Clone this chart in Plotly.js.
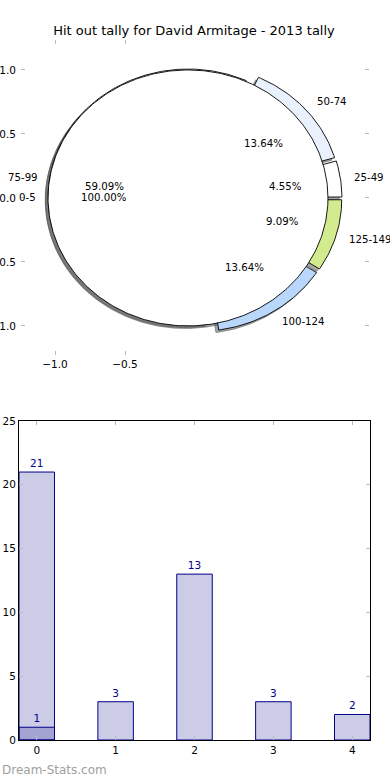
<!DOCTYPE html>
<html>
<head>
<meta charset="utf-8">
<script src="https://cdn.plot.ly/plotly-3.0.1.min.js"></script>
<style>html,body{margin:0;padding:0;background:#fff;}#chart{width:390px;height:780px;}</style>
</head>
<body>
<div id="chart"></div>
<script>
// ---- Data ----
const chartTitle = 'Hit out tally for David Armitage - 2013 tally';
const pieLabels = ['25-49', '50-74', '75-99', '100-124', '125-149'];
const pieValues = [1, 3, 13, 3, 2];
const pieColors = ['#ffffff', '#e9f1fd', '#ffffff', '#b8d7fb', '#d2eb8e'];
const outerLabels = ['0-5'];
const outerValues = [1];
const outerColors = ['#ffffff'];
const pieYTickVals = [-1, -0.5, 0, 0.5, 1];
const pieYTickText = ['\u22121.0', '\u22120.5', '0.0', '0.5', '1.0'];
const pieXTickVals = [-1, -0.5];
const pieXTickText = ['\u22121.0', '\u22120.5'];
const barX = [0, 1, 2, 3, 4];
const barValues = [21, 3, 13, 3, 2];
const bar2X = [0];
const bar2Values = [1];
const watermark = 'Dream-Stats.com';

// ---- Styling constants ----
const FONT = 'DejaVu Sans';
const PIE_FS = 10.2;
const EXPLODE = 0.05, LABEL_DIST = 1.1, PCT_DIST = 0.6;
const SH_DX = -0.02, SH_DY = -0.02;

function wedge(t1, t2, cx, cy, r) {
  const xs = [], ys = [];
  const full = (t2 - t1) >= 359.999;
  if (!full) { xs.push(cx); ys.push(cy); }
  const n = Math.max(4, Math.ceil((t2 - t1) / 1));
  for (let i = 0; i <= n; i++) {
    const a = (t1 + (t2 - t1) * i / n) * Math.PI / 180;
    xs.push(cx + r * Math.cos(a)); ys.push(cy + r * Math.sin(a));
  }
  if (!full) { xs.push(cx); ys.push(cy); }
  return {xs, ys};
}

function buildPie(labels, values, colors) {
  const total = values.reduce((a, b) => a + b, 0);
  let cum = 0;
  const out = [];
  values.forEach((v, i) => {
    const t1 = cum / total * 360, t2 = (cum + v) / total * 360;
    cum += v;
    const mid = (t1 + t2) / 2 * Math.PI / 180;
    const cx = EXPLODE * Math.cos(mid), cy = EXPLODE * Math.sin(mid);
    out.push({label: labels[i], color: colors[i], pct: (v / total * 100).toFixed(2) + '%',
      t1, t2, mid, cx, cy});
  });
  return out;
}

const inner = buildPie(pieLabels, pieValues, pieColors);
const outer = buildPie(outerLabels, outerValues, outerColors);
const all = inner.concat(outer);

const traces = [];
// shadows
all.forEach(w => {
  const p = wedge(w.t1, w.t2, w.cx + SH_DX, w.cy + SH_DY, 1);
  traces.push({type: 'scatter', mode: 'lines', x: p.xs, y: p.ys, fill: 'toself',
    fillcolor: 'rgba(77,77,77,0.5)', line: {color: 'rgba(77,77,77,0.5)', width: 1},
    hoverinfo: 'skip', showlegend: false, xaxis: 'x', yaxis: 'y'});
});
// wedges
all.forEach(w => {
  const p = wedge(w.t1, w.t2, w.cx, w.cy, 1);
  traces.push({type: 'scatter', mode: 'lines', x: p.xs, y: p.ys, fill: 'toself',
    fillcolor: w.color, line: {color: '#000000', width: 0.9},
    hoverinfo: 'skip', showlegend: false, xaxis: 'x', yaxis: 'y'});
});

const annotations = [];
all.forEach(w => {
  const c = Math.cos(w.mid), s = Math.sin(w.mid);
  const lx = w.cx + LABEL_DIST * c, ly = w.cy + LABEL_DIST * s;
  annotations.push({xref: 'x', yref: 'y', x: lx, y: ly, text: w.label, showarrow: false,
    xanchor: lx > 0 ? 'left' : 'right', yanchor: 'middle', xshift: lx > 0 ? -2 : 4,
    font: {family: FONT, size: PIE_FS, color: '#000'}});
  annotations.push({xref: 'x', yref: 'y', x: w.cx + PCT_DIST * c, y: w.cy + PCT_DIST * s,
    text: w.pct, showarrow: false, xanchor: 'center', yanchor: 'middle',
    font: {family: FONT, size: PIE_FS, color: '#000'}});
});
annotations.push({xref: 'paper', yref: 'paper', x: 0, y: 1 - 770 / 780, text: watermark,
  showarrow: false, xanchor: 'left', yanchor: 'middle',
  font: {family: FONT, size: 12, color: '#a0a0a0'}});

// bars
const barCommon = {type: 'bar', width: 0.45, xaxis: 'x2', yaxis: 'y2', showlegend: false,
  marker: {color: 'rgba(0,0,128,0.2)', line: {color: '#00008b', width: 1}},
  textposition: 'outside', cliponaxis: false,
  textfont: {family: FONT, size: 10.5, color: '#00008b'}, hoverinfo: 'skip'};
traces.push(Object.assign({}, barCommon, {x: barX, y: barValues, text: barValues.map(String)}));
traces.push(Object.assign({}, barCommon, {x: bar2X, y: bar2Values, text: bar2Values.map(String)}));

const tickCommon = {ticks: 'inside', ticklen: 4, tickwidth: 1, tickcolor: '#bbbbbb',
  showgrid: false, zeroline: false, fixedrange: true,
  tickfont: {family: FONT, size: 10.5, color: '#000'}};

const layout = {
  width: 390, height: 780,
  margin: {l: 0, r: 0, t: 0, b: 0},
  paper_bgcolor: '#ffffff', plot_bgcolor: 'rgba(0,0,0,0)',
  font: {family: FONT},
  title: {text: chartTitle, x: 194 / 390, xanchor: 'center', y: 1 - 30 / 780, yanchor: 'middle',
    font: {family: FONT, size: 13, color: '#000'}},
  barmode: 'overlay',
  xaxis: Object.assign({}, tickCommon, {domain: [21 / 390, 369 / 390], range: [-1.243, 1.243],
    tickmode: 'array', tickvals: pieXTickVals, ticktext: pieXTickText, anchor: 'y',
    showline: false, mirror: 'ticks', ticklabelstandoff: 1}),
  yaxis: Object.assign({}, tickCommon, {domain: [1 - 355 / 780, 1 - 40 / 780], range: [-1.227, 1.234],
    tickmode: 'array', tickvals: pieYTickVals, ticktext: pieYTickText, anchor: 'x',
    showline: false, mirror: 'ticks', ticklabelstandoff: 4}),
  xaxis2: Object.assign({}, tickCommon, {domain: [19 / 390, 370 / 390], range: [-0.225, 4.225],
    tickmode: 'array', tickvals: barX, anchor: 'y2',
    showline: true, linecolor: '#000', linewidth: 1, mirror: 'ticks'}),
  yaxis2: Object.assign({}, tickCommon, {domain: [1 - 740 / 780, 1 - 421 / 780], range: [0, 25],
    tickmode: 'linear', tick0: 0, dtick: 5, anchor: 'x2',
    showline: true, linecolor: '#000', linewidth: 1, mirror: 'ticks'}),
  annotations: annotations
};

Plotly.newPlot('chart', traces, layout, {staticPlot: true, displayModeBar: false});
</script>
</body>
</html>
